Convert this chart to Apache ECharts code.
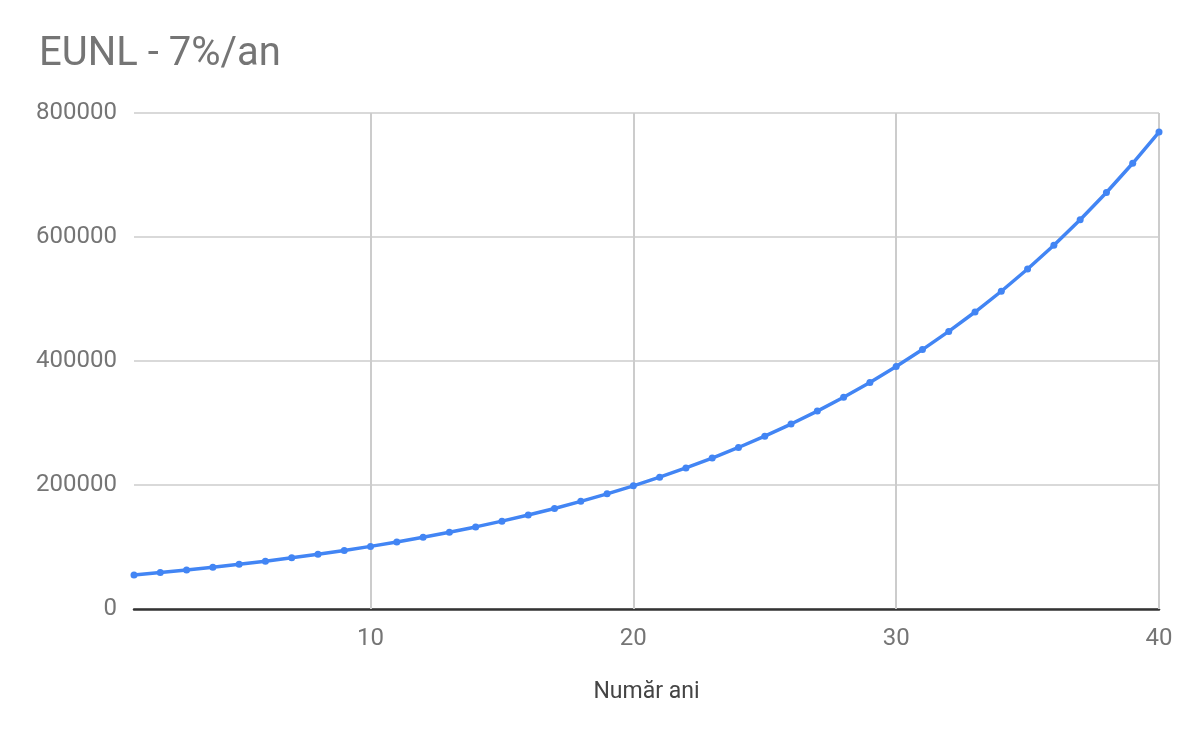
<!DOCTYPE html>
<html><head><meta charset="utf-8">
<script src="https://cdn.jsdelivr.net/npm/echarts@6/dist/echarts.min.js"></script>
<style>html,body{margin:0;padding:0;background:#fff}#c{width:1200px;height:742px}</style>
</head><body><div id="c"></div>
<script>
const titleText = "EUNL - 7%/an";
const xAxisName = "Număr ani";
const xTicks = [10, 20, 30, 40];
const years = [1,2,3,4,5,6,7,8,9,10,11,12,13,14,15,16,17,18,19,20,21,22,23,24,25,26,27,28,29,30,31,32,33,34,35,36,37,38,39,40];
const values = [55000,58800,62900,67300,72000,77100,82500,88300,94500,101000,108000,115700,123800,132400,141700,151600,162200,173600,185700,198700,212700,227500,243500,260500,278800,298300,319200,341500,365400,391000,418400,447700,479000,512500,548400,586800,627900,671800,718900,769200];

const chart = echarts.init(document.getElementById('c'));
chart.setOption({
  animation: false,
  title: { text: titleText, left: 34, top: 30, textStyle: { fontFamily: 'Roboto', fontWeight: 'normal', fontSize: 40, color: '#757575' } },
  grid: { left: 134, right: 41, top: 113, bottom: 133 },
  xAxis: {
    type: 'value', min: 1, max: 40,
    name: xAxisName, nameLocation: 'middle', nameGap: 72,
    nameTextStyle: { fontFamily: 'Roboto', fontSize: 23, color: '#444' },
    axisLine: { show: true, lineStyle: { color: '#333333', width: 2.5 } },
    axisTick: { show: false },
    splitLine: { show: false },
    axisLabel: { fontFamily: 'Roboto', fontSize: 24, color: '#757575', margin: 18, customValues: xTicks }
  },
  yAxis: {
    type: 'value', min: 0, max: 800000, interval: 200000,
    axisLine: { show: false }, axisTick: { show: false },
    splitLine: { lineStyle: { color: '#cccccc', width: 1.5 } },
    axisLabel: { fontFamily: 'Roboto', fontSize: 24, color: '#757575', margin: 17, formatter: v => String(v) }
  },
  series: [{
    type: 'line', data: years.map((y, i) => [y, values[i]]),
    lineStyle: { color: '#4285F4', width: 3.5 },
    itemStyle: { color: '#4285F4' },
    symbol: 'circle', symbolSize: 7, showSymbol: true,
    z: 3,
    markLine: {
      silent: true, symbol: 'none', label: { show: false }, z: 1,
      lineStyle: { color: '#cccccc', width: 2, type: 'solid' },
      data: xTicks.map(t => ({ xAxis: t }))
    }
  }]
});
</script></body></html>
